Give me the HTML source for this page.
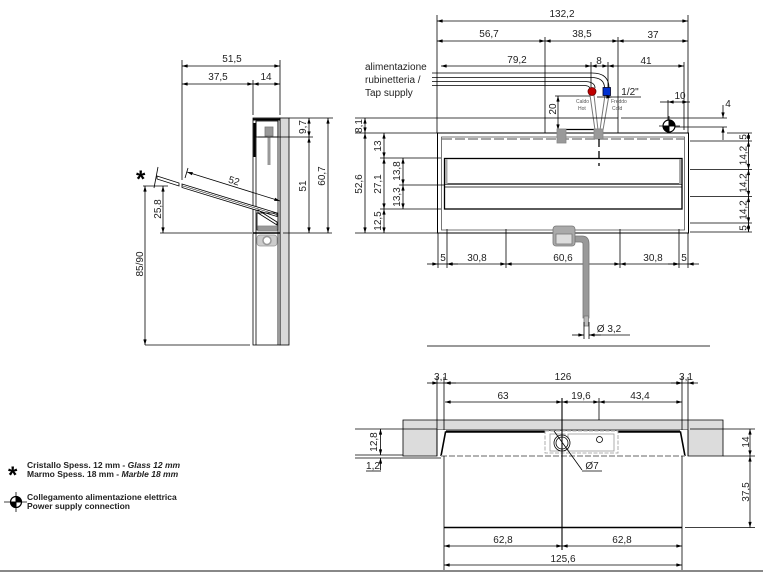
<!DOCTYPE html>
<html><head><meta charset="utf-8"><style>
html,body{margin:0;padding:0;background:#fff;}
svg{display:block;}
text{font-family:"Liberation Sans",sans-serif;fill:#222;}
</style></head><body>
<svg width="763" height="579" viewBox="0 0 763 579" xmlns="http://www.w3.org/2000/svg">
<defs>
<marker id="a" viewBox="0 0 10 6" refX="10" refY="3" markerWidth="6" markerHeight="3.4" markerUnits="userSpaceOnUse" orient="auto-start-reverse"><path d="M0,0 L10,3 L0,6 z" fill="#000"/></marker>
</defs>
<g stroke="#000" stroke-width="0.8" fill="none">
<!-- ============ LEFT SIDE VIEW ============ -->
<line x1="182" y1="66" x2="280" y2="66" marker-start="url(#a)" marker-end="url(#a)"/>
<line x1="182" y1="84" x2="253" y2="84" marker-start="url(#a)" marker-end="url(#a)"/>
<line x1="253" y1="84" x2="280" y2="84" marker-start="url(#a)" marker-end="url(#a)"/>
<line x1="182" y1="60" x2="182" y2="180"/>
<line x1="253" y1="80" x2="253" y2="115"/>
<line x1="280" y1="60" x2="280" y2="115"/>
<!-- wall -->
<rect x="280" y="118" width="9" height="227" fill="#d9d9d9"/>
<!-- cabinet -->
<rect x="253" y="118" width="27" height="227" fill="#fff"/>
<line x1="256" y1="121" x2="256" y2="345"/>
<line x1="278" y1="121" x2="278" y2="345"/>
<line x1="253" y1="119.5" x2="280" y2="119.5" stroke-width="2"/>
<rect x="256" y="121" width="22" height="16"/>
<line x1="254.5" y1="123" x2="254.5" y2="157" stroke-width="2.2"/>
<rect x="265" y="127" width="8" height="9" fill="#999" stroke="#777"/>
<line x1="269" y1="136" x2="269" y2="165" stroke="#999" stroke-width="3"/>
<!-- glass -->
<polygon points="182,184 277,213 277,216.5 182,187.5" fill="#fff"/>
<line x1="182" y1="185.7" x2="277" y2="214.7" stroke-width="0.5"/>
<polygon points="157,176 179,183 179,186 157,179" fill="#fff"/>
<line x1="158" y1="167" x2="154" y2="188"/>
<polygon points="258,210 277,222 277,225 258,213" fill="#fff"/>
<rect x="257" y="213" width="21" height="17"/>
<rect x="258" y="226" width="19" height="5" fill="#999" stroke="#888"/>
<line x1="253" y1="233" x2="280" y2="233" stroke-width="1.5"/>
<rect x="257" y="235" width="20" height="11" rx="3" fill="#ccc" stroke="#999"/>
<circle cx="267" cy="240.5" r="4" fill="#fff" stroke="#999" stroke-width="1.5"/>
<!-- dim 52 -->
<line x1="187" y1="172" x2="280" y2="201" marker-start="url(#a)" marker-end="url(#a)"/>
<line x1="185" y1="178" x2="188" y2="168"/>
<!-- dims left -->
<line x1="143" y1="186" x2="168" y2="186"/>
<line x1="163" y1="186" x2="163" y2="233" marker-start="url(#a)" marker-end="url(#a)"/>
<line x1="145" y1="186" x2="145" y2="345" marker-start="url(#a)" marker-end="url(#a)"/>
<line x1="145" y1="345" x2="250" y2="345"/>
<line x1="160" y1="233" x2="252" y2="233"/>
<line x1="283" y1="233" x2="332" y2="233"/>
<!-- dims right -->
<line x1="289" y1="118" x2="333" y2="118"/>
<line x1="258" y1="137" x2="313" y2="137"/>
<line x1="309" y1="118" x2="309" y2="137" marker-start="url(#a)" marker-end="url(#a)"/>
<line x1="309" y1="137" x2="309" y2="233" marker-start="url(#a)" marker-end="url(#a)"/>
<line x1="328" y1="118" x2="328" y2="233" marker-start="url(#a)" marker-end="url(#a)"/>

<!-- ============ FRONT VIEW ============ -->
<line x1="437" y1="21" x2="688" y2="21" marker-start="url(#a)" marker-end="url(#a)"/>
<line x1="437" y1="41" x2="545" y2="41" marker-start="url(#a)" marker-end="url(#a)"/>
<line x1="545" y1="41" x2="618" y2="41" marker-start="url(#a)" marker-end="url(#a)"/>
<line x1="618" y1="41" x2="688" y2="41" marker-start="url(#a)" marker-end="url(#a)"/>
<line x1="437" y1="15" x2="437" y2="133"/>
<line x1="688" y1="15" x2="688" y2="133"/>
<line x1="545" y1="37" x2="545" y2="118"/>
<line x1="618" y1="37" x2="618" y2="118"/>
<line x1="441" y1="66" x2="591" y2="66" marker-start="url(#a)" marker-end="url(#a)"/>
<line x1="591" y1="66" x2="608" y2="66" marker-start="url(#a)" marker-end="url(#a)"/>
<line x1="608" y1="66" x2="684" y2="66" marker-start="url(#a)" marker-end="url(#a)"/>
<line x1="591" y1="62" x2="591" y2="88"/>
<line x1="608" y1="62" x2="608" y2="88"/>
<line x1="684" y1="62" x2="684" y2="130"/>
<!-- tap supply lines -->
<path d="M432 73 H592 Q609 73 609 88"/>
<path d="M432 77.5 H591 Q604.5 77.5 604.5 88"/>
<path d="M432 81.5 H584 Q595 81.5 595 88"/>
<path d="M432 85.5 H583 Q589.5 85.5 589.5 88"/>
<!-- pipes -->
<path d="M590 95 L595 130 M594 95 L598 130" stroke="#777" stroke-width="1"/>
<path d="M605 95 L600 130 M609 95 L603 130" stroke="#777" stroke-width="1"/>
<circle cx="592" cy="91.5" r="4" fill="#c00000" stroke="#600"/>
<rect x="603" y="87.5" width="7.5" height="8" fill="#0030d0" stroke="#002"/>
<!-- 1/2" -->
<line x1="597" y1="97" x2="612" y2="97" marker-end="url(#a)"/>
<line x1="612" y1="97" x2="641" y2="97"/>
<!-- 20 -->
<line x1="555" y1="96" x2="590" y2="96"/>
<line x1="558" y1="96" x2="558" y2="130" marker-start="url(#a)" marker-end="url(#a)"/>
<line x1="558" y1="129.5" x2="600" y2="129.5" stroke-width="1.2"/>
<!-- top box -->
<line x1="355" y1="118" x2="545" y2="118"/>
<rect x="545" y="118" width="73" height="15"/>
<line x1="621" y1="118" x2="727" y2="118"/>
<line x1="672" y1="127" x2="727" y2="127"/>
<line x1="723" y1="105" x2="723" y2="118" marker-end="url(#a)"/>
<line x1="723" y1="140" x2="723" y2="127" marker-end="url(#a)"/>
<!-- 10 -->
<line x1="660" y1="102" x2="668" y2="102" />
<line x1="668" y1="100" x2="668" y2="135"/>
<line x1="690" y1="102" x2="688" y2="102"/>
<line x1="668" y1="102" x2="688" y2="102" marker-start="url(#a)" marker-end="url(#a)"/>
<!-- power symbol -->
<circle cx="669" cy="126" r="6" fill="#fff" stroke-width="1.2"/>
<path d="M669 126 L669 120 A6 6 0 0 1 675 126 Z" fill="#000"/>
<path d="M669 126 L669 132 A6 6 0 0 1 663 126 Z" fill="#000"/>
<line x1="659" y1="126" x2="680" y2="126"/>
<line x1="669" y1="116" x2="669" y2="136"/>
<!-- 8,1 -->
<line x1="355" y1="133" x2="437" y2="133"/>
<line x1="365" y1="118" x2="365" y2="133" marker-start="url(#a)" marker-end="url(#a)"/>
<!-- cabinet front -->
<rect x="437.5" y="133" width="251" height="100" fill="#fff" stroke-width="1"/>
<rect x="441.5" y="137" width="243" height="93" stroke="#555"/>
<line x1="442" y1="139" x2="684" y2="139" stroke="#888" stroke-width="1.5" stroke-dasharray="10,3"/>
<rect x="444.5" y="158.5" width="237.5" height="50.5" stroke-width="1.3"/>
<line x1="444.5" y1="184" x2="682" y2="184" stroke-width="1.2"/>
<line x1="444.5" y1="187" x2="682" y2="187" stroke-width="0.8"/>
<rect x="445" y="159" width="2.5" height="25" fill="#aaa" stroke="none"/>
<rect x="679" y="159" width="2.5" height="25" fill="#aaa" stroke="none"/>
<rect x="557" y="129" width="9" height="14" fill="#999" stroke="#888"/>
<rect x="594" y="129" width="9" height="10" fill="#999" stroke="#888"/>
<line x1="599" y1="139" x2="599" y2="166" stroke-width="1.3" stroke-dasharray="8,4"/>
<!-- left dims front -->
<line x1="365" y1="133" x2="365" y2="233" marker-start="url(#a)" marker-end="url(#a)"/>
<line x1="355" y1="233" x2="437" y2="233"/>
<line x1="384" y1="133" x2="384" y2="158" marker-start="url(#a)" marker-end="url(#a)"/>
<line x1="384" y1="158" x2="384" y2="209" marker-start="url(#a)" marker-end="url(#a)"/>
<line x1="384" y1="209" x2="384" y2="233" marker-start="url(#a)" marker-end="url(#a)"/>
<line x1="380" y1="158" x2="441" y2="158"/>
<line x1="380" y1="209" x2="441" y2="209"/>
<line x1="399" y1="185" x2="444" y2="185"/>
<line x1="403" y1="158" x2="403" y2="185" marker-start="url(#a)" marker-end="url(#a)"/>
<line x1="403" y1="185" x2="403" y2="209" marker-start="url(#a)" marker-end="url(#a)"/>
<!-- right dims front -->
<line x1="690" y1="141" x2="752" y2="141"/>
<line x1="690" y1="169.5" x2="752" y2="169.5"/>
<line x1="690" y1="196.5" x2="752" y2="196.5"/>
<line x1="690" y1="223" x2="752" y2="223"/>
<line x1="690" y1="232" x2="752" y2="232"/>
<line x1="727" y1="133" x2="752" y2="133"/>
<line x1="748.5" y1="133" x2="748.5" y2="141" marker-start="url(#a)" marker-end="url(#a)"/>
<line x1="748.5" y1="141" x2="748.5" y2="169.5" marker-start="url(#a)" marker-end="url(#a)"/>
<line x1="748.5" y1="169.5" x2="748.5" y2="196.5" marker-start="url(#a)" marker-end="url(#a)"/>
<line x1="748.5" y1="196.5" x2="748.5" y2="223" marker-start="url(#a)" marker-end="url(#a)"/>
<line x1="748.5" y1="223" x2="748.5" y2="232" marker-start="url(#a)" marker-end="url(#a)"/>
<!-- bottom dims front -->
<line x1="438" y1="233" x2="438" y2="268"/>
<line x1="447" y1="229" x2="447" y2="268"/>
<line x1="506" y1="229" x2="506" y2="268"/>
<line x1="620" y1="229" x2="620" y2="268"/>
<line x1="679" y1="229" x2="679" y2="268"/>
<line x1="688" y1="233" x2="688" y2="268"/>
<line x1="427" y1="264" x2="438" y2="264" marker-end="url(#a)"/>
<line x1="438" y1="264" x2="447" y2="264"/>
<line x1="458" y1="264" x2="447" y2="264" marker-end="url(#a)"/>
<line x1="447" y1="264" x2="506" y2="264" marker-start="url(#a)" marker-end="url(#a)"/>
<line x1="506" y1="264" x2="620" y2="264" marker-start="url(#a)" marker-end="url(#a)"/>
<line x1="620" y1="264" x2="679" y2="264" marker-start="url(#a)" marker-end="url(#a)"/>
<line x1="668" y1="264" x2="679" y2="264" marker-end="url(#a)"/>
<line x1="679" y1="264" x2="688" y2="264"/>
<line x1="699" y1="264" x2="688" y2="264" marker-end="url(#a)"/>
<!-- siphon -->
<path d="M575 236 H582 Q589 236 589 244 V318 H583 V244 Q583 242 580 242 H575 Z" fill="#999" stroke="#777"/>
<rect x="584" y="316" width="4.5" height="10" fill="#bbb" stroke="#777"/>
<rect x="553" y="226" width="22" height="20" rx="3" fill="#aaa" stroke="#777"/>
<rect x="556" y="234" width="16" height="10" fill="#ddd" stroke="#777"/>
<!-- Ø3,2 -->
<line x1="584" y1="322" x2="584" y2="339"/>
<line x1="589" y1="322" x2="589" y2="339"/>
<line x1="572" y1="335" x2="584" y2="335" marker-end="url(#a)"/>
<line x1="601" y1="335" x2="589" y2="335" marker-end="url(#a)"/>
<line x1="589" y1="335" x2="630" y2="335"/>
<line x1="427" y1="346" x2="710" y2="346" stroke="#333" stroke-width="1"/>

<!-- ============ PLAN VIEW ============ -->
<line x1="427" y1="383" x2="438" y2="383" marker-end="url(#a)"/>
<line x1="438" y1="383" x2="445" y2="383"/>
<line x1="456" y1="383" x2="445" y2="383" marker-end="url(#a)"/>
<line x1="445" y1="383" x2="682" y2="383" marker-start="url(#a)" marker-end="url(#a)"/>
<line x1="671" y1="383" x2="682" y2="383" marker-end="url(#a)"/>
<line x1="682" y1="383" x2="688" y2="383"/>
<line x1="698" y1="383" x2="688" y2="383" marker-end="url(#a)"/>
<line x1="445" y1="402" x2="562" y2="402" marker-start="url(#a)" marker-end="url(#a)"/>
<line x1="562" y1="402" x2="599" y2="402" marker-start="url(#a)" marker-end="url(#a)"/>
<line x1="599" y1="402" x2="682" y2="402" marker-start="url(#a)" marker-end="url(#a)"/>
<line x1="599" y1="398" x2="599" y2="436"/>
<!-- counter -->
<path d="M403 420 H723 V456 H688 V430 H437 V456 H403 Z" fill="#dcdcdc"/>
<rect x="437" y="430" width="251" height="26" fill="#fff" stroke="none"/>
<line x1="437" y1="430" x2="437" y2="456"/>
<line x1="688" y1="430" x2="688" y2="456"/>
<line x1="437" y1="377" x2="437" y2="456"/>
<line x1="688" y1="377" x2="688" y2="456"/>
<line x1="444" y1="377" x2="444" y2="430"/>
<line x1="682" y1="377" x2="682" y2="430"/>
<path d="M441 456 L445.5 432 H680.5 L685 456" stroke-width="1.6"/>
<line x1="446" y1="431" x2="680" y2="431" stroke-width="1.2"/>
<line x1="441" y1="456" x2="685" y2="456" stroke="#999" stroke-width="1.5" stroke-dasharray="6,2"/>
<!-- drain box -->
<rect x="545" y="431" width="73" height="22" stroke="#999" fill="#fff" stroke-dasharray="4,1.5"/>
<rect x="550" y="434" width="15" height="17" stroke="#999"/>
<rect x="568" y="434" width="46" height="17" stroke="#999"/>
<circle cx="562" cy="443" r="8" fill="#fff"/>
<circle cx="562" cy="443" r="6"/>
<circle cx="599.5" cy="439.5" r="3"/>
<line x1="554" y1="431" x2="582" y2="470"/>
<line x1="582" y1="471" x2="602" y2="471"/>
<line x1="562" y1="398" x2="562" y2="550" stroke-width="1.1"/>
<!-- under box -->
<line x1="444" y1="456" x2="444" y2="570"/>
<line x1="682" y1="456" x2="682" y2="570"/>
<line x1="444" y1="527.5" x2="682" y2="527.5" stroke-width="1.6"/>
<line x1="444" y1="546" x2="562" y2="546" marker-start="url(#a)" marker-end="url(#a)"/>
<line x1="562" y1="546" x2="682" y2="546" marker-start="url(#a)" marker-end="url(#a)"/>
<line x1="444" y1="565" x2="682" y2="565" marker-start="url(#a)" marker-end="url(#a)"/>
<!-- right dims plan -->
<line x1="690" y1="429" x2="755" y2="429"/>
<line x1="723" y1="456" x2="755" y2="456"/>
<line x1="685" y1="527.5" x2="755" y2="527.5"/>
<line x1="750" y1="429" x2="750" y2="456" marker-start="url(#a)" marker-end="url(#a)"/>
<line x1="750" y1="456" x2="750" y2="527.5" marker-start="url(#a)" marker-end="url(#a)"/>
<!-- left dims plan -->
<line x1="355" y1="429" x2="437" y2="429"/>
<line x1="355" y1="455" x2="403" y2="455"/>
<line x1="355" y1="458" x2="441" y2="458"/>
<line x1="380.5" y1="429" x2="380.5" y2="455" marker-start="url(#a)" marker-end="url(#a)"/>
<line x1="380.5" y1="470" x2="380.5" y2="458" marker-end="url(#a)"/>
<line x1="366" y1="471" x2="381" y2="471"/>
<!-- bottom gray line -->
<line x1="0" y1="571" x2="763" y2="571" stroke="#888" stroke-width="2"/>
<!-- legend power symbol -->
<circle cx="16" cy="502" r="5.5" fill="#fff" stroke-width="1.2"/>
<path d="M16 502 L16 496.5 A5.5 5.5 0 0 1 21.5 502 Z" fill="#000"/>
<path d="M16 502 L16 507.5 A5.5 5.5 0 0 1 10.5 502 Z" fill="#000"/>
<line x1="4" y1="502" x2="27" y2="502"/>
<line x1="16" y1="492" x2="16" y2="512"/>
</g>

<!-- ============ TEXT ============ -->
<g font-size="10" text-anchor="middle">
<text x="232" y="62">51,5</text>
<text x="218" y="80">37,5</text>
<text x="266" y="80">14</text>
<text x="233" y="184" transform="rotate(17.3 233 184)">52</text>
<text transform="translate(161 209) rotate(-90)">25,8</text>
<text transform="translate(143 264) rotate(-90)">85/90</text>
<text transform="translate(306 127) rotate(-90)">9,7</text>
<text transform="translate(306 186) rotate(-90)">51</text>
<text transform="translate(325 176) rotate(-90)">60,7</text>

<text x="562" y="17">132,2</text>
<text x="489" y="37">56,7</text>
<text x="582" y="37">38,5</text>
<text x="653" y="38">37</text>
<text x="517" y="63">79,2</text>
<text x="599" y="64">8</text>
<text x="646" y="64">41</text>
<text x="630" y="95">1/2"</text>
<text x="680" y="99">10</text>
<text x="728" y="107">4</text>
<text transform="translate(556 109) rotate(-90)">20</text>
<text transform="translate(362 126) rotate(-90)">8,1</text>
<text transform="translate(362 184) rotate(-90)">52,6</text>
<text transform="translate(381 146) rotate(-90)">13</text>
<text transform="translate(381 184) rotate(-90)">27,1</text>
<text transform="translate(381 221) rotate(-90)">12,5</text>
<text transform="translate(400 171) rotate(-90)">13,8</text>
<text transform="translate(400 197) rotate(-90)">13,3</text>
<text transform="translate(746.5 137) rotate(-90)">5</text>
<text transform="translate(746.5 155.5) rotate(-90)">14,2</text>
<text transform="translate(746.5 183) rotate(-90)">14,2</text>
<text transform="translate(746.5 210) rotate(-90)">14,2</text>
<text transform="translate(746.5 228) rotate(-90)">5</text>
<text x="443" y="261">5</text>
<text x="477" y="261">30,8</text>
<text x="563" y="261">60,6</text>
<text x="653" y="261">30,8</text>
<text x="684" y="261">5</text>
<text x="609" y="332">Ø 3,2</text>

<text x="441" y="380">3,1</text>
<text x="563" y="380">126</text>
<text x="686" y="380">3,1</text>
<text x="503" y="399">63</text>
<text x="581" y="399">19,6</text>
<text x="640" y="399">43,4</text>
<text x="592" y="469">Ø7</text>
<text transform="translate(377 442) rotate(-90)">12,8</text>
<text x="373" y="469">1,2</text>
<text transform="translate(749 442) rotate(-90)">14</text>
<text transform="translate(749 492) rotate(-90)">37,5</text>
<text x="503" y="543">62,8</text>
<text x="622" y="543">62,8</text>
<text x="563" y="562">125,6</text>
</g>
<g font-size="10">
<text x="365" y="70">alimentazione</text>
<text x="365" y="83">rubinetteria /</text>
<text x="365" y="96">Tap supply</text>
</g>
<g font-size="5" fill="#555">
<text x="576" y="103" style="fill:#555">Caldo</text>
<text x="578" y="110" style="fill:#555">Hot</text>
<text x="611" y="103" style="fill:#555">Freddo</text>
<text x="612" y="110" style="fill:#555">Cold</text>
</g>
<text x="136" y="187" font-size="24" font-weight="bold" style="fill:#000">*</text>
<text x="8" y="483" font-size="24" font-weight="bold" style="fill:#000">*</text>
<g font-size="8.5" font-weight="bold">
<text x="27" y="468">Cristallo Spess. 12 mm - <tspan font-style="italic">Glass 12 mm</tspan></text>
<text x="27" y="477">Marmo Spess. 18 mm - <tspan font-style="italic">Marble 18 mm</tspan></text>
<text x="27" y="500">Collegamento alimentazione elettrica</text>
<text x="27" y="509">Power supply connection</text>
</g>
</svg>
</body></html>
